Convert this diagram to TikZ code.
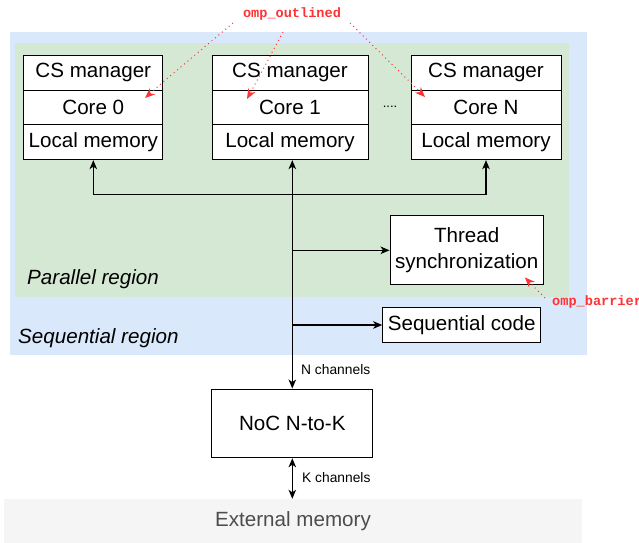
\documentclass[tikz,border=0pt]{standalone}
\usepackage{fontspec}
\setmainfont{Liberation Sans}
\newfontfamily\ompfont{Liberation Mono}
\usetikzlibrary{arrows.meta,positioning,calc}

\definecolor{seqblue}{HTML}{DAE8FC}
\definecolor{pargreen}{HTML}{D5E8D4}
\definecolor{ompred}{HTML}{FF3333}
\definecolor{extgrey}{HTML}{F5F5F5}
\definecolor{exttext}{HTML}{4D4D4D}

\tikzset{
  >={Stealth[length=9pt,width=7.5pt,inset=2.5pt]},
  cell/.style={draw, line width=1pt, fill=white, minimum height=34.7pt, inner sep=0pt,
    font=\fontsize{20.6}{24}\selectfont},
  blockbox/.style={draw, line width=1pt, fill=white, inner sep=0pt, align=center,
    font=\fontsize{20.6}{25.5}\selectfont},
  link/.style={line width=1.2pt},
  chanlabel/.style={anchor=west, inner sep=0pt, font=\fontsize{13.8}{16}\selectfont},
  regionlabel/.style={anchor=west, inner sep=0pt, font=\fontsize{20.6}{24}\selectfont\itshape},
  omplabel/.style={inner sep=0pt, text=ompred, font=\fontsize{13.6}{16}\selectfont\ompfont\bfseries},
  ompline/.style={draw=ompred, line width=1pt, dash pattern=on 1pt off 3.5pt,
    -{Stealth[length=10pt,width=8pt,inset=3pt,sep=0pt]}}
}

\begin{document}
\begin{tikzpicture}[x=1pt,y=-1pt]
    \useasboundingbox (0,0) rectangle (639,542);
    \clip (0,0) rectangle (639,542);

    % Sequential and parallel regions
    \fill[seqblue] (10,32) rectangle (587,355);
    \fill[pargreen] (15,43) rectangle (569,297);
    \node[regionlabel] (parlabel) at (27,279) {Parallel region};
    \node[regionlabel] (seqlabel) at (18,338) {Sequential region};

    % Cores: name / centre x / width
    \foreach \id/\cx/\w/\lbl in {0/93.3/138.7/0, 1/290/156/1, N/486/150/N} {
        \node[cell, minimum width=\w pt] (cs\id) at (\cx,72.9) {CS manager};
        \node[cell, minimum width=\w pt] (core\id) at (\cx,107.6) {Core \lbl};
        \node[cell, minimum width=\w pt] (mem\id) at (\cx,142.3) {Local memory};
    }
    \node[font=\fontsize{13}{15}\selectfont, inner sep=0pt] (dots) at (390,107) {....};

    % Sync, sequential code, NoC, external memory
    \node[blockbox, minimum width=153.3pt, minimum height=69.3pt] (sync) at (466.7,250.3) {Thread\\synchronization};
    \node[blockbox, minimum width=158pt, minimum height=35.4pt] (seq) at (461.7,325) {Sequential code};
    \node[blockbox, minimum width=161.3pt, minimum height=68.7pt] (noc) at (292.3,423.4) {NoC N-to-K};
    \node[fill=extgrey, minimum width=578pt, minimum height=45pt, inner sep=0pt, text=exttext,
        font=\fontsize{20.6}{24}\selectfont] (ext) at (293,521.5) {External memory};

    % Interconnect
    \coordinate (hub) at ($(noc.north |- mem1.south)+(0,34)$);
    \draw[link,<->] (noc.north |- mem1.south) -- (noc.north);
    \draw[link,->] (hub) -| (mem0.south);
    \draw[link,->] (hub) -| (memN.south);
    \draw[link,->] (noc.north |- sync.west) -- (sync.west);
    \draw[link,->] (noc.north |- seq.west) -- (seq.west);
    \draw[link,<->] (noc.south) -- (noc.south |- ext.north);
    \node[chanlabel] (nch) at (301,370) {N channels};
    \node[chanlabel] (kch) at (302,478) {K channels};

    % OpenMP runtime calls
    \node[omplabel] (outlined) at (292,14) {omp\_outlined};
    \draw[ompline] (233,23) -- (163,82) -- (145,98);
    \draw[ompline] (283,32) -- (253,88) -- (247,99);
    \draw[ompline] (350,23) -- (410,82) -- (425,97);
    \node[omplabel, anchor=west] (barrier) at (552,302) {omp\_barrier};
    \draw[ompline] ([xshift=-7pt,yshift=4pt]barrier.west) -- ([xshift=-19pt,yshift=8pt]sync.south east);
\end{tikzpicture}
\end{document}
